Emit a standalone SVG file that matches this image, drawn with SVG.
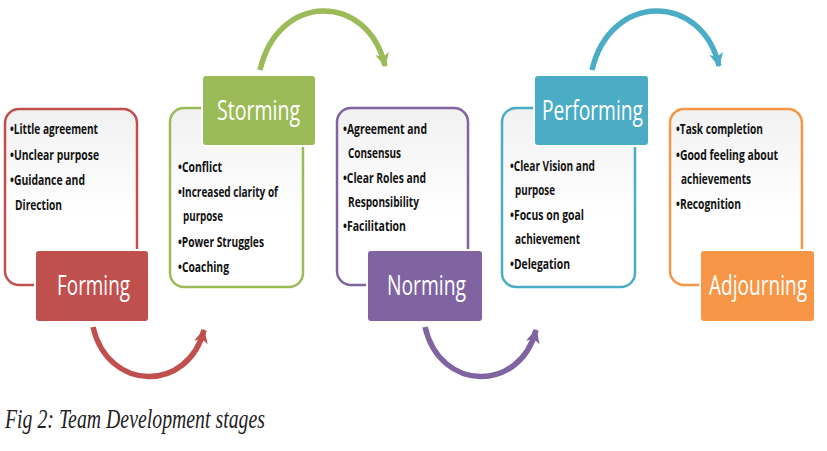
<svg xmlns="http://www.w3.org/2000/svg" width="827" height="451" viewBox="0 0 827 451">
<defs>
<linearGradient id="bg" x1="0" y1="0" x2="0" y2="1">
<stop offset="0" stop-color="#f1f1f1"/>
<stop offset="0.6" stop-color="#ffffff"/>
<stop offset="1" stop-color="#ffffff"/>
</linearGradient>
<marker id="mRed" markerUnits="userSpaceOnUse" markerWidth="14" markerHeight="14" refX="11" refY="6" orient="auto" viewBox="0 0 12 12"><path d="M0,0 L12,6 L0,12 L3,6 Z" fill="#C0504D"/></marker>
<marker id="mGreen" markerUnits="userSpaceOnUse" markerWidth="14" markerHeight="14" refX="11" refY="6" orient="auto" viewBox="0 0 12 12"><path d="M0,0 L12,6 L0,12 L3,6 Z" fill="#9BBB59"/></marker>
<marker id="mPurple" markerUnits="userSpaceOnUse" markerWidth="14" markerHeight="14" refX="11" refY="6" orient="auto" viewBox="0 0 12 12"><path d="M0,0 L12,6 L0,12 L3,6 Z" fill="#8064A2"/></marker>
<marker id="mBlue" markerUnits="userSpaceOnUse" markerWidth="14" markerHeight="14" refX="11" refY="6" orient="auto" viewBox="0 0 12 12"><path d="M0,0 L12,6 L0,12 L3,6 Z" fill="#4BACC6"/></marker>
</defs>
<style>
.fillbox{fill:url(#bg);stroke:none}
.edge{fill:none;stroke-width:2.5}
.lbl{stroke:#ffffff;stroke-width:2}
.lt{font-family:"Open Sans","Liberation Sans",sans-serif;font-size:28px;fill:#ffffff}
.bt{font-family:"Open Sans","Liberation Sans",sans-serif;font-size:15px;font-weight:bold;fill:#111111}
.arc{fill:none;stroke-width:5.5;stroke-linecap:butt}
.cap{font-family:"Liberation Serif","DejaVu Serif",serif;font-style:italic;font-size:27px;fill:#222222}
</style>
<rect width="827" height="451" fill="#ffffff"/>

<g id="connectors">
<path class="arc" d="M93,327 C108,392 188,393 204,330" stroke="#C0504D" marker-end="url(#mRed)"/>
<path class="arc" d="M260,70 C278,-8 368,-8 385,66" stroke="#9BBB59" marker-end="url(#mGreen)"/>
<path class="arc" d="M425,327 C440,392 520,393 536,330" stroke="#8064A2" marker-end="url(#mPurple)"/>
<path class="arc" d="M592,70 C610,-8 702,-8 719,66" stroke="#4BACC6" marker-end="url(#mBlue)"/>
</g>

<g id="forming">
<path class="fillbox" d="M35,285 H19 A14,14 0 0 1 5,271 V123 A14,14 0 0 1 19,109 H123 A14,14 0 0 1 137,123 V250 H35 Z"/>
<path class="edge" stroke="#C0504D" d="M34,285 H19 A14,14 0 0 1 5,271 V123 A14,14 0 0 1 19,109 H123 A14,14 0 0 1 137,123 V249"/>
<text class="bt"><tspan x="10" y="134" textLength="88" lengthAdjust="spacingAndGlyphs">•Little agreement</tspan><tspan x="10" y="160" textLength="89" lengthAdjust="spacingAndGlyphs">•Unclear purpose</tspan><tspan x="10" y="185" textLength="75" lengthAdjust="spacingAndGlyphs">•Guidance and</tspan><tspan x="15" y="210" textLength="47" lengthAdjust="spacingAndGlyphs">Direction</tspan></text>
<rect class="lbl" x="35" y="250" width="114" height="72" rx="4" fill="#C0504D"/>
<text class="lt" x="57" y="295" textLength="73" lengthAdjust="spacingAndGlyphs">Forming</text>
</g>

<g id="storming">
<path class="fillbox" d="M202,108 H184 A14,14 0 0 0 170,122 V273 A14,14 0 0 0 184,287 H289 A14,14 0 0 0 303,273 V146 H202 Z"/>
<path class="edge" stroke="#9BBB59" d="M201,108 H184 A14,14 0 0 0 170,122 V273 A14,14 0 0 0 184,287 H289 A14,14 0 0 0 303,273 V147"/>
<text class="bt"><tspan x="178" y="172" textLength="44" lengthAdjust="spacingAndGlyphs">•Conflict</tspan><tspan x="178" y="197" textLength="100" lengthAdjust="spacingAndGlyphs">•Increased clarity of</tspan><tspan x="183" y="221" textLength="40" lengthAdjust="spacingAndGlyphs">purpose</tspan><tspan x="178" y="247" textLength="86" lengthAdjust="spacingAndGlyphs">•Power Struggles</tspan><tspan x="178" y="272" textLength="51" lengthAdjust="spacingAndGlyphs">•Coaching</tspan></text>
<rect class="lbl" x="202" y="75" width="114" height="71" rx="4" fill="#9BBB59"/>
<text class="lt" x="217" y="120" textLength="83" lengthAdjust="spacingAndGlyphs">Storming</text>
</g>

<g id="norming">
<path class="fillbox" d="M367,285 H351 A14,14 0 0 1 337,271 V122 A14,14 0 0 1 351,108 H454 A14,14 0 0 1 468,122 V250 H367 Z"/>
<path class="edge" stroke="#8064A2" d="M366,285 H351 A14,14 0 0 1 337,271 V122 A14,14 0 0 1 351,108 H454 A14,14 0 0 1 468,122 V249"/>
<text class="bt"><tspan x="343" y="134" textLength="84" lengthAdjust="spacingAndGlyphs">•Agreement and</tspan><tspan x="348" y="158" textLength="53" lengthAdjust="spacingAndGlyphs">Consensus</tspan><tspan x="343" y="183" textLength="83" lengthAdjust="spacingAndGlyphs">•Clear Roles and</tspan><tspan x="348" y="207" textLength="71" lengthAdjust="spacingAndGlyphs">Responsibility</tspan><tspan x="343" y="231" textLength="63" lengthAdjust="spacingAndGlyphs">•Facilitation</tspan></text>
<rect class="lbl" x="367" y="250" width="116" height="72" rx="4" fill="#8064A2"/>
<text class="lt" x="387" y="295" textLength="79" lengthAdjust="spacingAndGlyphs">Norming</text>
</g>

<g id="performing">
<path class="fillbox" d="M534,108 H516 A14,14 0 0 0 502,122 V273 A14,14 0 0 0 516,287 H621 A14,14 0 0 0 635,273 V146 H534 Z"/>
<path class="edge" stroke="#4BACC6" d="M533,108 H516 A14,14 0 0 0 502,122 V273 A14,14 0 0 0 516,287 H621 A14,14 0 0 0 635,273 V147"/>
<text class="bt"><tspan x="510" y="171" textLength="85" lengthAdjust="spacingAndGlyphs">•Clear Vision and</tspan><tspan x="515" y="195" textLength="40" lengthAdjust="spacingAndGlyphs">purpose</tspan><tspan x="510" y="220" textLength="74" lengthAdjust="spacingAndGlyphs">•Focus on goal</tspan><tspan x="515" y="244" textLength="65" lengthAdjust="spacingAndGlyphs">achievement</tspan><tspan x="510" y="269" textLength="60" lengthAdjust="spacingAndGlyphs">•Delegation</tspan></text>
<rect class="lbl" x="534" y="75" width="115" height="71" rx="4" fill="#4BACC6"/>
<text class="lt" x="542" y="120" textLength="101" lengthAdjust="spacingAndGlyphs">Performing</text>
</g>

<g id="adjourning">
<path class="fillbox" d="M700,285 H684 A14,14 0 0 1 670,271 V123 A14,14 0 0 1 684,109 H788 A14,14 0 0 1 802,123 V250 H700 Z"/>
<path class="edge" stroke="#F79646" d="M699,285 H684 A14,14 0 0 1 670,271 V123 A14,14 0 0 1 684,109 H788 A14,14 0 0 1 802,123 V249"/>
<text class="bt"><tspan x="676" y="134" textLength="87" lengthAdjust="spacingAndGlyphs">•Task completion</tspan><tspan x="676" y="160" textLength="102" lengthAdjust="spacingAndGlyphs">•Good feeling about</tspan><tspan x="681" y="184" textLength="70" lengthAdjust="spacingAndGlyphs">achievements</tspan><tspan x="676" y="209" textLength="65" lengthAdjust="spacingAndGlyphs">•Recognition</tspan></text>
<rect class="lbl" x="700" y="250" width="115" height="72" rx="4" fill="#F79646"/>
<text class="lt" x="807" y="295" text-anchor="end" textLength="98" lengthAdjust="spacingAndGlyphs">Adjourning</text>
</g>

<text class="cap" x="5" y="428" textLength="260" lengthAdjust="spacingAndGlyphs">Fig 2: Team Development stages</text>
</svg>
